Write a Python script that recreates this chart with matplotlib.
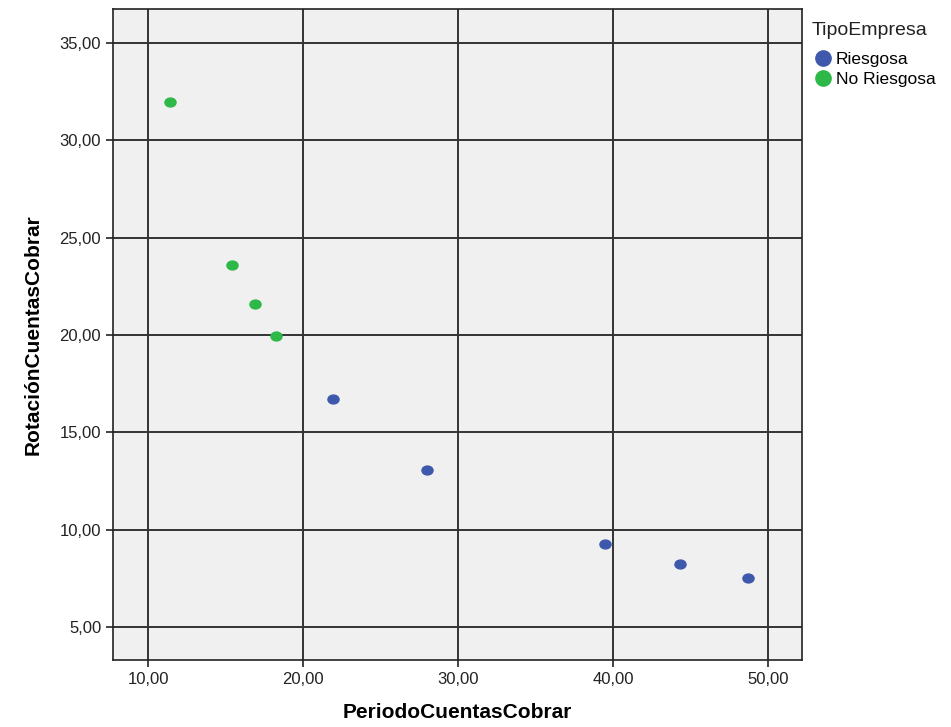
import matplotlib.pyplot as plt
import numpy as np
from matplotlib.path import Path
from matplotlib.transforms import Affine2D
from matplotlib.ticker import FuncFormatter
from matplotlib.lines import Line2D

plt.rcParams['font.family'] = ['Liberation Sans', 'DejaVu Sans']

# datos
x_riesgosa = [21.94, 28.0, 39.48, 44.32, 48.7]
y_riesgosa = [16.69, 13.06, 9.27, 8.25, 7.53]
x_no_riesgosa = [11.42, 15.42, 16.9, 18.26]
y_no_riesgosa = [31.98, 23.59, 21.6, 19.96]
xticks = [10, 20, 30, 40, 50]
yticks = [5, 10, 15, 20, 25, 30, 35]

azul = '#3E58AC'
verde = '#2EB848'

ovalo = Path.unit_circle().transformed(Affine2D().scale(1.25, 1.0))

fig = plt.figure(figsize=(9.51, 7.27), dpi=100)
ax = fig.add_axes([0.1188, 0.0922, 0.7245, 0.8954])
ax.set_facecolor('#F0F0F0')

ax.plot(x_riesgosa, y_riesgosa, linestyle='none', marker=ovalo, markersize=8,
        color=azul, zorder=3)
ax.plot(x_no_riesgosa, y_no_riesgosa, linestyle='none', marker=ovalo, markersize=8,
        color=verde, zorder=3)

ax.set_xlim(7.74, 52.19)
ax.set_ylim(3.31, 36.74)
ax.set_xticks(xticks)
ax.set_yticks(yticks)
fmt = FuncFormatter(lambda v, p: ('%.2f' % v).replace('.', ','))
ax.xaxis.set_major_formatter(fmt)
ax.yaxis.set_major_formatter(fmt)
ax.tick_params(direction='out', length=5, width=1.2, color='#222222',
               labelsize=12, labelcolor='#222222')
ax.grid(True, color='#333333', linewidth=1.4)
ax.set_axisbelow(True)
for s in ax.spines.values():
    s.set_color('#222222')
    s.set_linewidth(1.2)

ax.set_xlabel('PeriodoCuentasCobrar', fontsize=15, fontweight='bold', labelpad=12)
ax.set_ylabel('RotaciónCuentasCobrar', fontsize=15, fontweight='bold', labelpad=12)

fig.text(0.853, 0.958, 'TipoEmpresa', fontsize=14, color='#222222', va='center')
handles = [Line2D([], [], linestyle='none', marker='o', markersize=11, color=azul),
           Line2D([], [], linestyle='none', marker='o', markersize=11, color=verde)]
fig.legend(handles, ['Riesgosa', 'No Riesgosa'],
           loc='upper left', bbox_to_anchor=(0.857, 0.929), frameon=False,
           fontsize=12.5, handletextpad=0.3, borderaxespad=0,
           handlelength=0.9, labelspacing=0.3, borderpad=0)

fig.savefig('out.png', dpi=100)
